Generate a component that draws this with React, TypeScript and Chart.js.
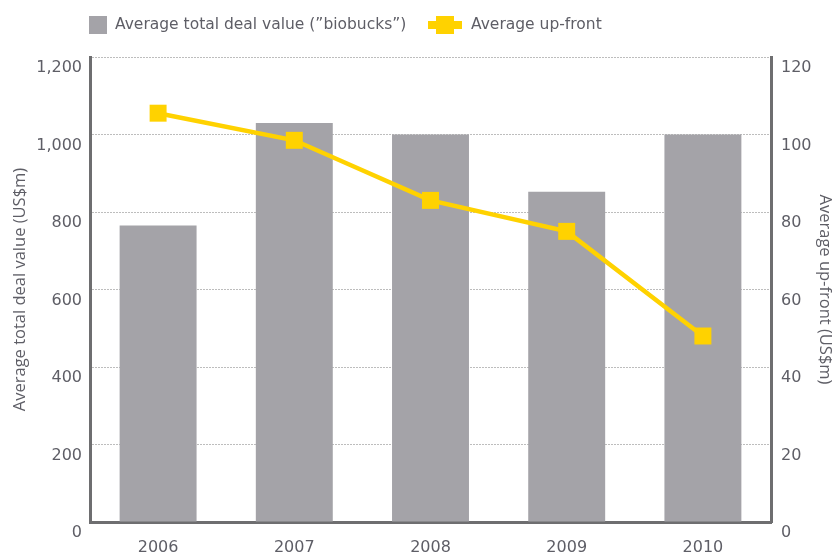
import React, { useEffect, useRef } from "react";
import { Chart, registerables } from "chart.js";

Chart.register(...registerables);

const years = ["2006", "2007", "2008", "2009", "2010"];
const totalDealValue = [765, 1030, 1000, 852, 1000];
const upFront = [105.5, 98.5, 83, 75, 48];
const leftTicks = [0, 200, 400, 600, 800, 1000, 1200];
const rightTicks = [0, 20, 40, 60, 80, 100, 120];

const BAR = "#a4a3a8";
const YELLOW = "#ffd200";
const AXIS = "#6e6e70";
const TEXT = "#5e5e66";
const FONT = "'DejaVu Sans', Verdana, sans-serif";
const TITLE_FONT = "'Open Sans', 'Noto Sans', sans-serif";

const legendPlugin = {
  id: "customLegend",
  afterDraw(chart: any) {
    const ctx = chart.ctx;
    ctx.save();
    ctx.font = `15.5px ${FONT}`;
    ctx.textBaseline = "middle";
    const y = 25;
    ctx.fillStyle = BAR;
    ctx.fillRect(89, 16, 18, 18);
    ctx.fillStyle = TEXT;
    ctx.fillText(chart.data.datasets[0].label, 115, y);
    ctx.fillStyle = YELLOW;
    ctx.fillRect(428, 21, 34, 8);
    ctx.fillRect(436, 16, 18, 18);
    ctx.fillStyle = TEXT;
    ctx.fillText(chart.data.datasets[1].label, 471, y);
    ctx.restore();
  },
};

export default function App() {
  const ref = useRef<HTMLCanvasElement | null>(null);
  useEffect(() => {
    document.body.style.margin = "0";
    const canvas = ref.current!;
    const chart = new Chart(canvas, {
      type: "bar",
      data: {
        labels: years,
        datasets: [
          {
            type: "bar",
            label: "Average total deal value (\u201dbiobucks\u201d)",
            data: totalDealValue,
            yAxisID: "y",
            backgroundColor: BAR,
            borderWidth: 0,
            categoryPercentage: 1,
            barPercentage: 0.565,
            order: 1,
          },
          {
            type: "line",
            label: "Average up-front",
            data: upFront,
            yAxisID: "y1",
            borderColor: YELLOW,
            backgroundColor: YELLOW,
            borderWidth: 4.5,
            pointStyle: "rect",
            pointRadius: 12,
            pointHoverRadius: 12,
            pointBorderWidth: 0,
            tension: 0,
            order: 0,
          },
        ] as any,
      },
      options: {
        responsive: false,
        animation: false,
        layout: { padding: { top: 57, left: 0, right: 0, bottom: 0 } },
        plugins: {
          legend: { display: false },
          tooltip: { enabled: false },
        },
        scales: {
          x: {
            offset: true,
            grid: { display: false, drawTicks: false },
            border: { display: true, color: AXIS, width: 3 },
            ticks: { color: TEXT, font: { family: FONT, size: 16 }, padding: 16 },
            afterFit: (s: any) => { s.height = 33; },
          },
          y: {
            position: "left",
            min: 0,
            max: 1200,
            afterBuildTicks: (s: any) => { s.ticks = leftTicks.map((v) => ({ value: v })); },
            grid: { color: "#bdbdbd", lineWidth: 1, drawTicks: false, tickLength: 0 },
            border: { display: true, color: AXIS, width: 3, dash: [2, 1] },
            ticks: {
              color: TEXT,
              font: { family: FONT, size: 16 },
              padding: 8,
              labelOffset: 11,
              callback: (v: any) => Number(v).toLocaleString("en-US"),
            },
            title: {
              display: true,
              text: "Average total deal value (US$m)",
              color: TEXT,
              font: { family: TITLE_FONT, size: 16.5 },
              padding: { top: 10, bottom: 0 },
            },
            afterFit: (s: any) => { s.width = 90; },
          },
          y1: {
            position: "right",
            min: 0,
            max: 120,
            afterBuildTicks: (s: any) => { s.ticks = rightTicks.map((v) => ({ value: v })); },
            grid: { display: false, drawTicks: false },
            border: { display: true, color: AXIS, width: 3 },
            ticks: {
              color: TEXT,
              font: { family: FONT, size: 16 },
              padding: 10,
              labelOffset: 11,
            },
            title: {
              display: true,
              text: "Average up-front (US$m)",
              color: TEXT,
              font: { family: TITLE_FONT, size: 16.5 },
              padding: { top: 0, bottom: 0 },
            },
            afterFit: (s: any) => { s.width = 64; },
          },
        },
      } as any,
      plugins: [legendPlugin],
    });
    return () => chart.destroy();
  }, []);
  return <canvas ref={ref} width={835} height={555} style={{ display: "block" }} />;
}
